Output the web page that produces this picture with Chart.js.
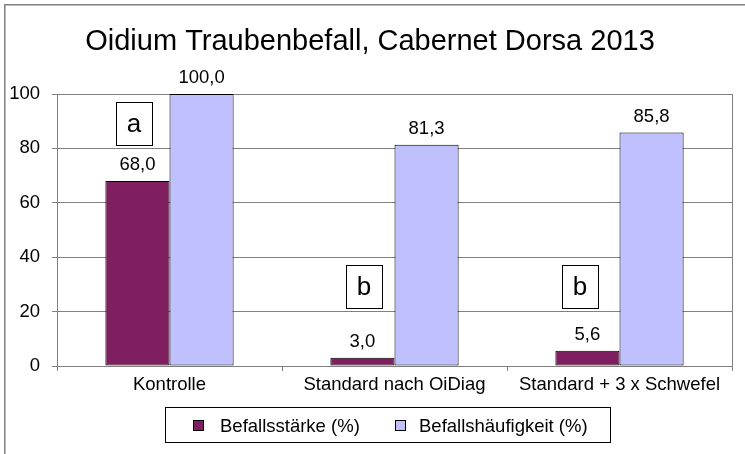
<!DOCTYPE html>
<html>
<head>
<meta charset="utf-8">
<script src="https://cdn.jsdelivr.net/npm/chart.js@4/dist/chart.umd.min.js"></script>
<style>
html,body{margin:0;padding:0;background:#fff;}
#wrap{width:745px;height:454px;}
</style>
</head>
<body>
<div id="wrap"><canvas id="c" width="745" height="454"></canvas></div>
<script>
const chartTitle = 'Oidium Traubenbefall, Cabernet Dorsa 2013';
const categories = ['Kontrolle', 'Standard nach OiDiag', 'Standard + 3 x Schwefel'];
const seriesNames = ['Befallsstärke (%)', 'Befallshäufigkeit (%)'];
const befallsstaerke = [68.0, 3.0, 5.6];
const befallshaeufigkeit = [100.0, 81.3, 85.8];
const yTicks = [0, 20, 40, 60, 80, 100];
const letters = ['a', 'b', 'b'];
const letterValues = [89.2, 29.4, 29.4];
const letterOffsets = [-0.158, -0.136, -0.176];

const FONT = "'Liberation Sans', Arial, sans-serif";
const colors = ['#7F1F5F', '#C0C0FF'];
const GRID = '#808080';
const FS = 18.5;

function fmt(v){ return v.toFixed(1).replace('.', ','); }

const overlay = {
  id: 'overlay',
  afterDraw(chart) {
    const ctx = chart.ctx;
    const ca = chart.chartArea;
    const xs = chart.scales.x, ys = chart.scales.y;
    ctx.save();
    // outer frame
    ctx.strokeStyle = '#808080';
    ctx.lineWidth = 1.5;
    ctx.strokeRect(4.75, 4.75, 760, 470);
    // plot right border
    ctx.strokeStyle = GRID;
    ctx.lineWidth = 1;
    ctx.beginPath();
    ctx.moveTo(Math.round(ca.right) + 0.5, ca.top);
    ctx.lineTo(Math.round(ca.right) + 0.5, ca.bottom + 5);
    ctx.stroke();
    // title
    ctx.fillStyle = '#000';
    ctx.font = '29px ' + FONT;
    ctx.textAlign = 'center';
    ctx.textBaseline = 'alphabetic';
    ctx.fillText(chartTitle, 370, 50);
    // data labels
    ctx.font = FS + 'px ' + FONT;
    chart.data.datasets.forEach((ds, di) => {
      const meta = chart.getDatasetMeta(di);
      meta.data.forEach((bar, i) => {
        ctx.fillText(fmt(ds.data[i]), bar.x, bar.y - 11);
      });
    });
    // letter boxes
    ctx.font = '26px ' + FONT;
    letters.forEach((l, i) => {
      const cx = xs.getPixelForValue(i) + letterOffsets[i] * (xs.width / categories.length);
      const cy = ys.getPixelForValue(letterValues[i]);
      const w = 36, h = 43;
      ctx.fillStyle = '#fff';
      ctx.fillRect(cx - w/2, cy - h/2, w, h);
      ctx.strokeStyle = '#000';
      ctx.lineWidth = 1;
      ctx.strokeRect(Math.round(cx - w/2) + 0.5, Math.round(cy - h/2) + 0.5, w, h);
      ctx.fillStyle = '#000';
      ctx.fillText(l, cx, cy + 9);
    });
    // legend
    ctx.strokeStyle = '#000';
    ctx.lineWidth = 1;
    ctx.strokeRect(165.5, 407.5, 445, 35);
    ctx.font = FS + 'px ' + FONT;
    ctx.textAlign = 'left';
    const lx = [193, 395], tx = [220, 419];
    seriesNames.forEach((n, i) => {
      ctx.fillStyle = colors[i];
      ctx.fillRect(lx[i], 420, 10, 10);
      ctx.strokeStyle = '#000';
      ctx.strokeRect(lx[i] + 0.5, 420.5, 10, 10);
      ctx.fillStyle = '#000';
      ctx.fillText(n, tx[i], 432);
    });
    ctx.restore();
  }
};

new Chart(document.getElementById('c'), {
  type: 'bar',
  data: {
    labels: categories,
    datasets: [
      { label: seriesNames[0], data: befallsstaerke, backgroundColor: colors[0], borderColor: '#000', borderWidth: 1, borderSkipped: false },
      { label: seriesNames[1], data: befallshaeufigkeit, backgroundColor: colors[1], borderColor: '#000', borderWidth: 1, borderSkipped: false }
    ]
  },
  options: {
    responsive: false,
    animation: false,
    devicePixelRatio: 1,
    layout: { padding: { left: 7, right: 13, top: 94, bottom: 58 } },
    plugins: { legend: { display: false }, title: { display: false }, tooltip: { enabled: false } },
    datasets: { bar: { categoryPercentage: 0.57, barPercentage: 1.0 } },
    scales: {
      x: {
        offset: true,
        grid: { offset: true, drawOnChartArea: false, drawTicks: true, tickLength: 5, color: GRID },
        border: { color: GRID },
        ticks: { color: '#000', font: { family: FONT, size: FS }, padding: 3, maxRotation: 0, autoSkip: false },
        afterFit: s => { s.height = 30; }
      },
      y: {
        min: 0, max: 100,
        afterBuildTicks: s => { s.ticks = yTicks.map(v => ({ value: v })); },
        grid: { color: GRID, tickLength: 5 },
        border: { color: GRID },
        ticks: { color: '#000', font: { family: FONT, size: FS }, padding: 12 },
        afterFit: s => { s.width = 50; }
      }
    }
  },
  plugins: [overlay]
});
</script>
</body>
</html>
